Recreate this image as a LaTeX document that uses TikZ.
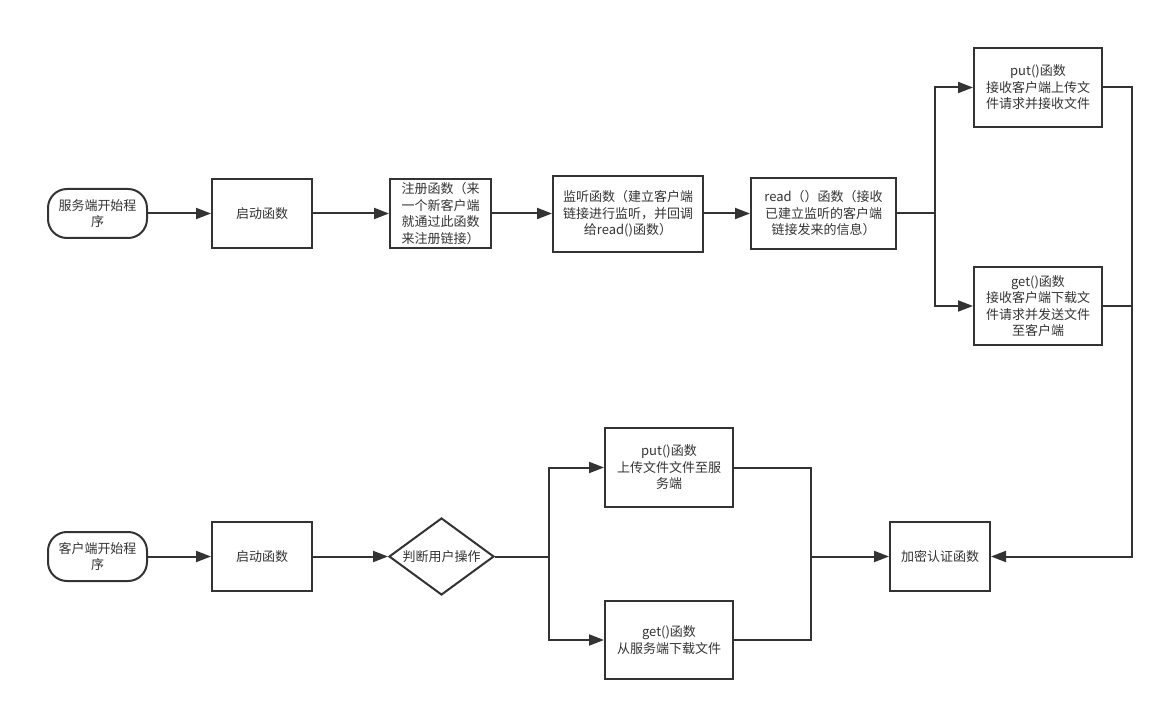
\documentclass[tikz,border=0pt]{standalone}
\usepackage{fontspec}
\setmainfont{Noto Sans CJK SC}
\usepackage{tikz}
\usetikzlibrary{
	positioning,
	arrows.meta,
	shapes.geometric
}
\definecolor{inkgray}{HTML}{333333}

\begin{document}
\begin{tikzpicture}[
	x=1pt,y=-1pt,
	every node/.style={
		text=inkgray,
		font=\fontsize{13}{16.5}\selectfont,
		align=center,
		inner sep=0pt
	},
	c_box/.style={
		draw=inkgray,
		line width=2pt,
		rectangle
	},
	c_start/.style={
		c_box,
		rounded corners=19pt,
		minimum width=99pt,
		minimum height=49pt
	},
	c_decide/.style={
		draw=inkgray,
		line width=2pt,
		diamond,
		aspect=1.36,
		minimum width=105pt,
		minimum height=77pt
	},
	c_line/.style={
		draw=inkgray,
		line width=2pt
	},
	c_arrow/.style={
		c_line,
		-{Triangle[length=15pt,width=11pt]}
	}
	]

	\useasboundingbox (0,0) rectangle (1163,711);

	% =========================================================================
	% SERVER ROW
	% =========================================================================

	\node[c_start] (sstart) at (97.5,213.5) {服务端开始程\\序};

	\node[c_box,minimum width=100pt,minimum height=69pt]
	(sboot) at (262,213.5) {启动函数};

	\node[c_box,minimum width=101pt,minimum height=69pt]
	(sreg) at (440.5,213.5) {注册函数（来\\一个新客户端\\就通过此函数\\来注册链接）};

	\node[c_box,minimum width=150pt,minimum height=76pt]
	(slisten) at (628,214) {监听函数（建立客户端\\链接进行监听，并回调\\给read()函数）};

	\node[c_box,minimum width=145pt,minimum height=71pt]
	(sread) at (823.5,213.5) {read（）函数（接收\\已建立监听的客户端\\链接发来的信息）};

	\node[c_box,minimum width=128pt,minimum height=79pt]
	(sput) at (1038,87.5) {put()函数\\接收客户端上传文\\件请求并接收文件};

	\node[c_box,minimum width=128pt,minimum height=78pt]
	(sget) at (1038,306) {get()函数\\接收客户端下载文\\件请求并发送文件\\至客户端};

	% =========================================================================
	% CLIENT ROW
	% =========================================================================

	\node[c_start] (cstart) at (97.5,556.5) {客户端开始程\\序};

	\node[c_box,minimum width=100pt,minimum height=69pt]
	(cboot) at (262,556.5) {启动函数};

	\node[c_decide] (cjudge) at (441.5,556.5) {判断用户操作};

	\node[c_box,minimum width=128pt,minimum height=79pt]
	(cput) at (669,467.5) {put()函数\\上传文件文件至服\\务端};

	\node[c_box,minimum width=128pt,minimum height=78pt]
	(cget) at (669,640) {get()函数\\从服务端下载文件};

	\node[c_box,minimum width=100pt,minimum height=69pt]
	(auth) at (940,556.5) {加密认证函数};

	% Junctions
	\coordinate (ssplit) at (935,213.5);
	\coordinate (smerge) at (1132,87.5);
	\coordinate (csplit) at (549,556.5);
	\coordinate (cmerge) at (811,556.5);

	% =========================================================================
	% CONNECTORS
	% =========================================================================

	\draw[c_arrow] (sstart) -- (sboot);
	\draw[c_arrow] (sboot) -- (sreg);
	\draw[c_arrow] (sreg) -- (sreg -| slisten.west);
	\draw[c_arrow] (slisten.east |- sread) -- (sread);

	\draw[c_line] (sread.east) -- (ssplit);
	\draw[c_arrow] (ssplit) |- (sput.west);
	\draw[c_arrow] (ssplit) |- (sget.west);

	\draw[c_arrow] (sput.east) -- (smerge) |- (auth.east);
	\draw[c_line] (sget.east) -- (sget.east -| smerge);

	\draw[c_arrow] (cstart) -- (cboot);
	\draw[c_arrow] (cboot) -- (cjudge);

	\draw[c_line] (cjudge.east) -- (csplit);
	\draw[c_arrow] (csplit) |- (cput.west);
	\draw[c_arrow] (csplit) |- (cget.west);

	\draw[c_line] (cput.east) -| (cmerge);
	\draw[c_line] (cget.east) -| (cmerge);
	\draw[c_arrow] (cmerge) -- (auth.west);

\end{tikzpicture}
\end{document}
